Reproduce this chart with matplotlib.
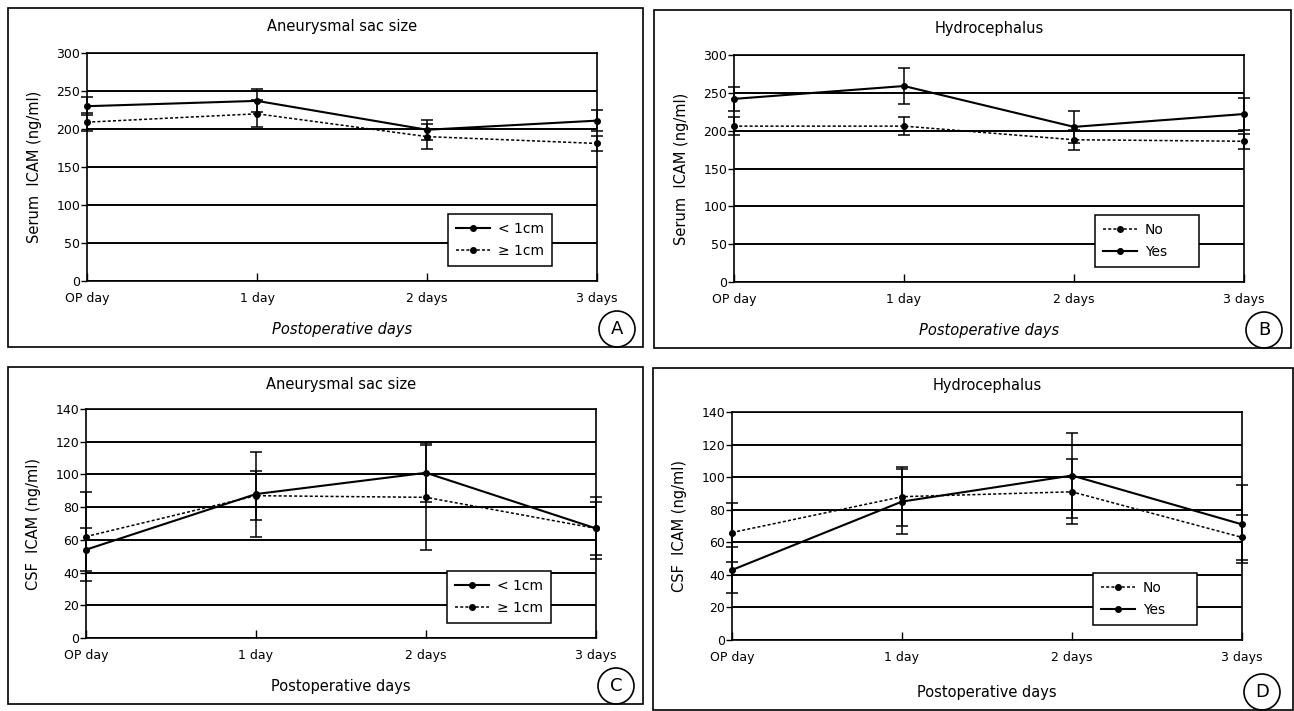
import matplotlib
matplotlib.use("Agg")
import matplotlib.pyplot as plt
from matplotlib.patches import Rectangle, Ellipse

plt.rcParams['font.family'] = ['DejaVu Sans']

W, H = 1294, 711

days = ["OP day", "1 day", "2 days", "3 days"]

# Serum ICAM, aneurysmal sac size
serum_small = [230, 237, 199, 211]
serum_small_err = [12, 15, 13, 14]
serum_large = [209, 220, 190, 181]
serum_large_err = [12, 18, 16, 10]

# Serum ICAM, hydrocephalus
serum_no = [206, 206, 188, 186]
serum_no_err = [12, 12, 13, 10]
serum_yes = [242, 259, 205, 222]
serum_yes_err = [16, 24, 21, 21]

# CSF ICAM, aneurysmal sac size
csf_small = [54, 88, 101, 67]
csf_small_err = [13, 26, 18, 19]
csf_large = [62, 87, 86, 67]
csf_large_err = [27, 15, 32, 16]

# CSF ICAM, hydrocephalus
csf_no = [66, 88, 91, 63]
csf_no_err = [18, 18, 20, 14]
csf_yes = [43, 85, 101, 71]
csf_yes_err = [14, 20, 26, 24]

SOLID = dict(linestyle="-", linewidth=1.5)
DOTTED = dict(linestyle=(0, (2, 1.4)), linewidth=1.1)


def fx(px):
    return px / W


def fy(py):
    return 1 - py / H


fig = plt.figure(figsize=(W / 100, H / 100), dpi=100)


def panel(rect_px, ymax, ystep, ylabel, title, xlabel_italic, series, letter, box):
    l, t, r, b = rect_px
    ax = fig.add_axes([fx(l), fy(b), fx(r - l), (b - t) / H])
    x = list(range(len(days)))
    handles, labels = [], []
    for vals, errs, label, style in series:
        c = ax.errorbar(x, vals, yerr=errs, color="black", marker="o", markersize=4,
                        capsize=4, elinewidth=1.1, capthick=1.1,
                        clip_on=False, zorder=3, **style)
        handles.append(c.lines[0])
        labels.append(label)
    ax.set_xlim(0, 3)
    ax.set_ylim(0, ymax)
    ax.set_yticks(range(0, ymax + 1, ystep))
    ax.set_xticks(x)
    ax.set_xticklabels(days)
    ax.yaxis.grid(True, color="black", linewidth=1.4)
    ax.set_axisbelow(True)
    for s in ax.spines.values():
        s.set_linewidth(1.2)
    ax.tick_params(axis="x", direction="in", length=6, width=1, labelsize=9, pad=8)
    ax.tick_params(axis="y", direction="out", length=4, width=1, labelsize=9, pad=1)
    ax.set_ylabel(ylabel, fontsize=10.5)
    ax.yaxis.set_label_coords(-0.088, 0.5)
    leg = ax.legend(handles, labels, loc="lower left",
                    bbox_to_anchor=(0.708, 0.066, 0.204, 0.19), mode="expand",
                    borderaxespad=0, fontsize=10, fancybox=False, framealpha=1,
                    edgecolor="black", handlelength=2.4, borderpad=0.6,
                    labelspacing=0.55, handletextpad=0.6)
    leg.get_frame().set_linewidth(1.1)

    bl, bt, br, bb = box
    fig.patches.append(Rectangle((fx(bl), fy(bb)), fx(br - bl), (bb - bt) / H,
                                 transform=fig.transFigure, fill=False,
                                 edgecolor="black", linewidth=1.2))
    cx = (l + r) / 2
    fig.text(fx(cx), fy(bt + 18), title, ha="center", va="center", fontsize=10.5)
    fig.text(fx(cx), fy(bb - 18), "Postoperative days", ha="center", va="center",
             fontsize=10.5, style="italic" if xlabel_italic else "normal")
    ex, ey = r + 20, bb - 18
    fig.patches.append(Ellipse((fx(ex), fy(ey)), fx(36), 36 / H,
                               transform=fig.transFigure, fill=False,
                               edgecolor="black", linewidth=1.2))
    fig.text(fx(ex), fy(ey), letter, ha="center", va="center", fontsize=13)
    return ax


panel((87, 53, 597, 281), 300, 50, "Serum  ICAM (ng/ml)", "Aneurysmal sac size", True,
      [(serum_small, serum_small_err, "< 1cm", SOLID),
       (serum_large, serum_large_err, "\u2265 1cm", DOTTED)],
      "A", (8, 8, 643, 347))

panel((734, 55, 1244, 282), 300, 50, "Serum  ICAM (ng/ml)", "Hydrocephalus", True,
      [(serum_no, serum_no_err, "No", DOTTED),
       (serum_yes, serum_yes_err, "Yes", SOLID)],
      "B", (654, 10, 1291, 348))

panel((86, 409, 596, 638), 140, 20, "CSF  ICAM (ng/ml)", "Aneurysmal sac size", False,
      [(csf_small, csf_small_err, "< 1cm", SOLID),
       (csf_large, csf_large_err, "\u2265 1cm", DOTTED)],
      "C", (8, 367, 643, 704))

panel((732, 412, 1242, 640), 140, 20, "CSF  ICAM (ng/ml)", "Hydrocephalus", False,
      [(csf_no, csf_no_err, "No", DOTTED),
       (csf_yes, csf_yes_err, "Yes", SOLID)],
      "D", (653, 368, 1293, 710))

fig.savefig("out.png", dpi=100)
